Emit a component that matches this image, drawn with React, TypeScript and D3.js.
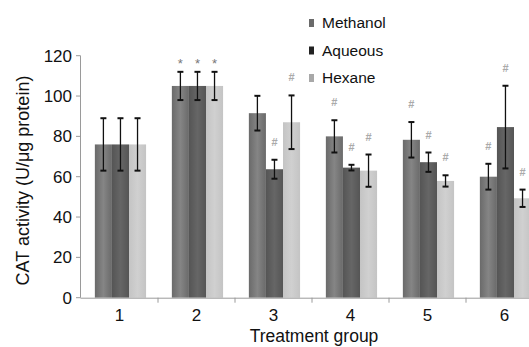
import React from "react";
import * as d3 from "d3";

// Treatment groups and series values
const groups = ["1", "2", "3", "4", "5", "6"];
const seriesNames = ["Methanol", "Aqueous", "Hexane"];

const methanol = [76, 105, 91.5, 80, 78.3, 60];
const aqueous = [76, 105, 63.7, 64.5, 67.2, 84.6];
const hexane = [76, 105, 87, 63, 57.9, 49.3];

const methanolErr = [13, 7, 8.6, 8, 8.8, 6.4];
const aqueousErr = [13, 7, 4.7, 1.4, 4.8, 20.5];
const hexaneErr = [13, 7, 13.3, 8, 2.8, 4.3];

const methanolMarks = ["", "*", "", "#", "#", "#"];
const aqueousMarks = ["", "*", "#", "#", "#", "#"];
const hexaneMarks = ["", "*", "#", "#", "#", "#"];

const yTicks = [0, 20, 40, 60, 80, 100, 120];

const values = [methanol, aqueous, hexane];
const errors = [methanolErr, aqueousErr, hexaneErr];
const marks = [methanolMarks, aqueousMarks, hexaneMarks];

const barFill = [
  ["#6a6a6a", "#858585", "#6a6a6a"],
  ["#555555", "#666666", "#555555"],
  ["#c4c4c4", "#d0d0d0", "#c4c4c4"],
];
const legendFill = ["#6a6a6a", "#222222", "#a8a8a8"];

const font = "'Liberation Sans', Arial, sans-serif";

export default function App() {
  const W = 529;
  const H = 347;

  const x = d3.scaleBand().domain(groups).range([81, 543]).padding(0);
  const inner = d3
    .scaleBand()
    .domain(seriesNames)
    .range([x.bandwidth() * 0.18, x.bandwidth() * 0.845])
    .padding(0);
  const y = d3.scaleLinear().domain([0, 120]).range([297.7, 55.7]);

  const axisColor = "#9a9a9a";
  const cap = 3;

  return (
    <svg
      width={W}
      height={H}
      style={{ position: "absolute", left: 0, top: 0, background: "#fff" }}
    >
      <defs>
        {barFill.map((c, i) => (
          <linearGradient key={i} id={`grad${i}`} x1="0" x2="1" y1="0" y2="0">
            <stop offset="0%" stopColor={c[0]} />
            <stop offset="50%" stopColor={c[1]} />
            <stop offset="100%" stopColor={c[2]} />
          </linearGradient>
        ))}
      </defs>

      {/* bars */}
      {seriesNames.map((s, si) =>
        groups.map((g, gi) => {
          const bx = (x(g) as number) + (inner(s) as number);
          const v = values[si][gi];
          return (
            <rect
              key={`${s}-${g}`}
              x={bx}
              y={y(v)}
              width={inner.bandwidth()}
              height={y(0) - y(v)}
              fill={`url(#grad${si})`}
            />
          );
        })
      )}

      {/* error bars and marks */}
      {seriesNames.map((s, si) =>
        groups.map((g, gi) => {
          const cx = (x(g) as number) + (inner(s) as number) + inner.bandwidth() / 2;
          const v = values[si][gi];
          const e = errors[si][gi];
          const mk = marks[si][gi];
          const top = y(v + e);
          const bot = y(v - e);
          return (
            <g key={`e-${s}-${g}`}>
              <line x1={cx} x2={cx} y1={top} y2={bot} stroke="#111" strokeWidth={1.3} />
              <line x1={cx - cap} x2={cx + cap} y1={top} y2={top} stroke="#111" strokeWidth={2} />
              <line x1={cx - cap} x2={cx + cap} y1={bot} y2={bot} stroke="#111" strokeWidth={2} />
              {mk === "*" && (
                <text
                  x={cx}
                  y={top - 4}
                  textAnchor="middle"
                  fontFamily={font}
                  fontSize={13}
                  fill="#777"
                >
                  *
                </text>
              )}
              {mk === "#" && (
                <text
                  x={cx}
                  y={top - 14}
                  textAnchor="middle"
                  fontFamily={font}
                  fontSize={11}
                  fontWeight="bold"
                  fill="#aaa"
                >
                  #
                </text>
              )}
            </g>
          );
        })
      )}

      {/* y axis */}
      <line x1={80.5} x2={80.5} y1={y(120)} y2={y(0)} stroke={axisColor} />
      {yTicks.map((t) => (
        <g key={t}>
          <line x1={76} x2={80.5} y1={y(t)} y2={y(t)} stroke={axisColor} />
          <text
            x={72}
            y={y(t)}
            dy="0.36em"
            textAnchor="end"
            fontFamily={font}
            fontSize={17}
            fill="#111"
          >
            {t}
          </text>
        </g>
      ))}

      {/* x axis */}
      <line x1={80.5} x2={543} y1={y(0) + 0.5} y2={y(0) + 0.5} stroke={axisColor} />
      {groups.map((g, i) => (
        <g key={g}>
          {i > 0 && (
            <line
              x1={x(g) as number}
              x2={x(g) as number}
              y1={y(0)}
              y2={y(0) + 5}
              stroke={axisColor}
            />
          )}
          <text
            x={(x(g) as number) + x.bandwidth() / 2}
            y={321}
            textAnchor="middle"
            fontFamily={font}
            fontSize={17}
            fill="#111"
          >
            {g}
          </text>
        </g>
      ))}

      {/* axis titles */}
      <text
        x={314}
        y={342}
        textAnchor="middle"
        fontFamily={font}
        fontSize={17.5}
        fill="#111"
      >
        Treatment group
      </text>
      <text
        transform={`translate(29, 180.5) rotate(-90)`}
        textAnchor="middle"
        fontFamily={font}
        fontSize={18}
        fill="#111"
      >
        CAT activity (U/μg protein)
      </text>

      {/* legend */}
      {seriesNames.map((s, i) => (
        <g key={s} transform={`translate(309, ${23 + i * 27.5})`}>
          <rect x={0} y={-4} width={5} height={8} fill={legendFill[i]} />
          <text x={13} y={0} dy="0.35em" fontFamily={font} fontSize={15.5} fill="#111">
            {s}
          </text>
        </g>
      ))}
    </svg>
  );
}
